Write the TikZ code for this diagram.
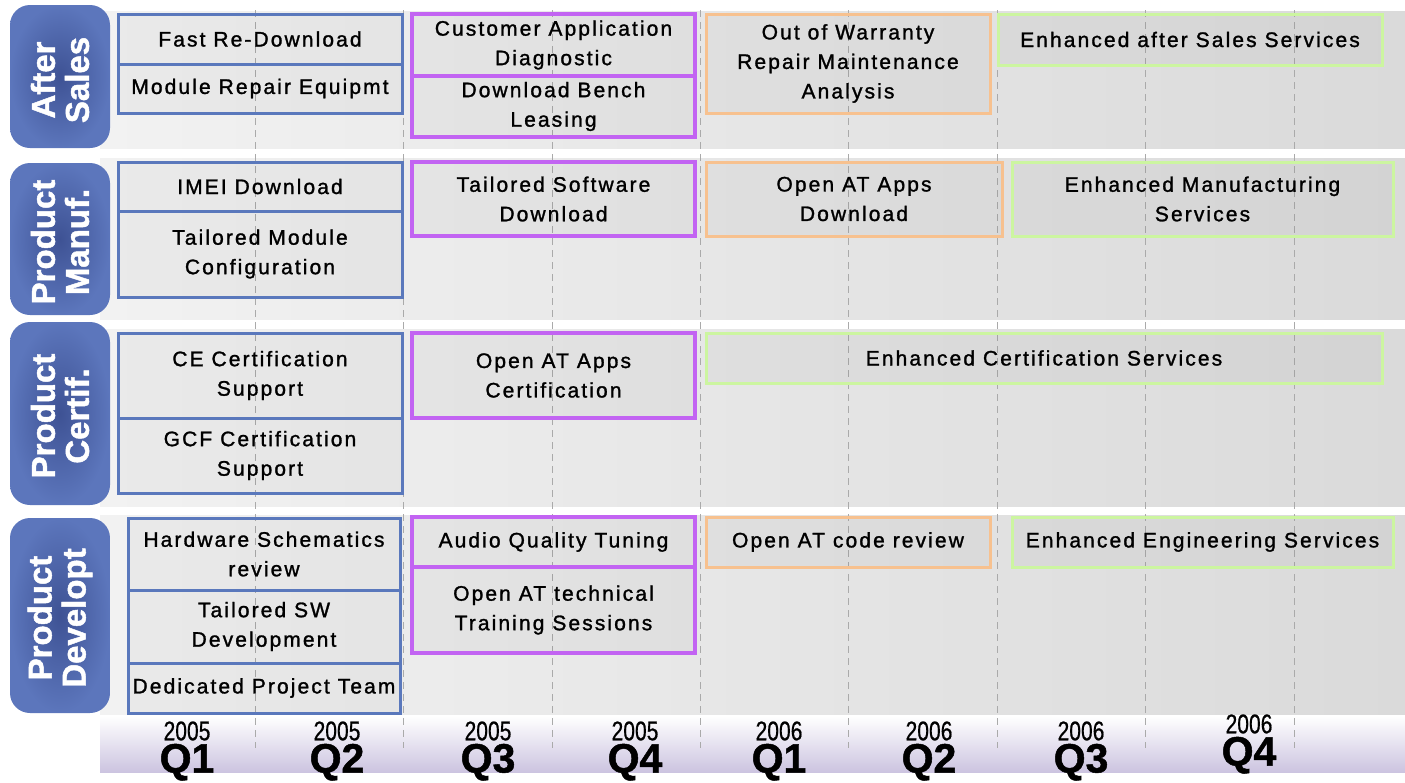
\documentclass[tikz,border=0pt]{standalone}
\usepackage{fontspec}
\setmainfont{Liberation Sans}
\newfontfamily\boxfont[LetterSpace=10,FakeBold=1.3]{Liberation Sans}
\newfontfamily\labfont[FakeBold=1.4]{Liberation Sans Bold}
\newfontfamily\yearfont[FakeStretch=0.78,FakeBold=0.6]{Liberation Sans}
\newfontfamily\qfont[FakeBold=1.2]{Liberation Sans Bold}
\newcommand\qlabel[2]{\begin{tabular}{@{}c@{}}{\yearfont\fontsize{27}{27}\selectfont #1}\\{\qfont\fontsize{41}{41}\selectfont #2}\end{tabular}}
\definecolor{cblue}{RGB}{90,120,188}
\definecolor{cpurple}{RGB}{194,100,242}
\definecolor{corange}{RGB}{247,193,143}
\definecolor{cgreen}{RGB}{204,245,160}
\definecolor{labout}{RGB}{92,118,188}
\definecolor{labin}{RGB}{62,82,148}
\definecolor{bandL}{RGB}{242,242,242}
\definecolor{bandR}{RGB}{218,218,218}
\definecolor{axisc}{RGB}{204,196,224}
\definecolor{gridc}{RGB}{170,170,170}
\tikzset{
  every node/.style={inner sep=0pt, outer sep=0pt},
  bx/.style={draw, line width=3pt, fill=black, fill opacity=0.03, text opacity=1,
    align=center, text=black, font=\boxfont\fontsize{21}{29.5}\selectfont},
  bl/.style={bx, draw=cblue},
  pu/.style={bx, draw=cpurple, line width=3.4pt},
  orb/.style={bx, draw=corange},
  gr/.style={bx, draw=cgreen},
  labbox/.style={rounded corners=20pt, inner color=labin, outer color=labout},
  labtext/.style={rotate=90, align=center, text=white, font=\labfont\fontsize{33}{34}\selectfont},
  band/.style={left color=bandL, right color=bandR},
  vline/.style={draw=gridc, line width=0.9pt, dash pattern=on 7pt off 5pt},
  tq/.style={text=black},
}
\begin{document}
\begin{tikzpicture}[x=1pt,y=-1pt]
\useasboundingbox (0,0) rectangle (1405,782);
% background bands
\shade[band] (100,11) rectangle (1405,148);
\shade[band] (100,158) rectangle (1405,319);
\shade[band] (100,329) rectangle (1405,506);
\shade[band] (100,515) rectangle (1405,714);
% time axis bar
\shade[top color=white, bottom color=axisc] (100,716) rectangle (1405,772);
% grid lines
\foreach \gx in {255,403,552,700,848,997,1145,1294}
  \draw[vline] (\gx,10) -- (\gx,748);
% row labels
\path[labbox] (10,5) rectangle (110,148);
\node[labtext] (lAS) at (60,80) {After\\Sales};
\path[labbox] (10,163) rectangle (110,315);
\node[labtext] (lPM) at (60,242) {Product\\Manuf.};
\path[labbox] (10,322) rectangle (110,505);
\node[labtext] (lPC) at (60,416) {Product\\Certif.};
\path[labbox] (10,518) rectangle (110,713);
\node[labtext] (lPD) at (60,618) {Product\\Developt};
% blue boxes
\node[bl, minimum width=284, minimum height=50] (fr) at (260,39) {Fast Re-Download};
\node[bl, minimum width=284, minimum height=49] (mr) at (260,88.5) {Module Repair Equipmt};
\node[bl, minimum width=284, minimum height=49] (imei) at (260,186.5) {IMEI Download};
\node[bl, minimum width=284, minimum height=86] (tmc) at (260,254) {Tailored Module\\Configuration};
\node[bl, minimum width=284, minimum height=85] (ce) at (260,375.5) {CE Certification\\Support};
\node[bl, minimum width=284, minimum height=75] (gcf) at (260,455.5) {GCF Certification\\Support};
\node[bl, minimum width=272, minimum height=72] (hw) at (264,554) {Hardware Schematics\\review};
\node[bl, minimum width=272, minimum height=73] (tsw) at (264,626.5) {Tailored SW\\Development};
\node[bl, minimum width=272, minimum height=50] (dpt) at (264,688) {Dedicated Project Team};
% purple boxes
\node[pu, minimum width=283, minimum height=62] (cad) at (553.5,45) {Customer Application\\Diagnostic};
\node[pu, minimum width=283, minimum height=61] (dbl) at (553.5,106.5) {Download Bench\\Leasing};
\node[pu, minimum width=283, minimum height=74] (tsd) at (553.5,199) {Tailored Software\\Download};
\node[pu, minimum width=283, minimum height=85] (oac) at (553.5,375.5) {Open AT Apps\\Certification};
\node[pu, minimum width=283, minimum height=50] (aqt) at (553.5,542) {Audio Quality Tuning};
\node[pu, minimum width=283, minimum height=86] (oat) at (553.5,610) {Open AT technical\\Training Sessions};
% orange boxes
\node[orb, minimum width=284, minimum height=99] (oow) at (848,63.5) {Out of Warranty\\Repair Maintenance\\Analysis};
\node[orb, minimum width=296, minimum height=74] (oad) at (854,199) {Open AT Apps\\Download};
\node[orb, minimum width=284, minimum height=50] (ocr) at (848,542) {Open AT code review};
% green boxes
\node[gr, minimum width=384, minimum height=51] (eas) at (1190,39.5) {Enhanced after Sales Services};
\node[gr, minimum width=381, minimum height=74] (ems) at (1202.5,199) {Enhanced Manufacturing\\Services};
\node[gr, minimum width=676, minimum height=50] (ecs) at (1044,358) {Enhanced Certification Services};
\node[gr, minimum width=381, minimum height=50] (ees) at (1202.5,542) {Enhanced Engineering Services};
% time axis labels
\node[tq] (t1) at (187,751) {\qlabel{2005}{Q1}};
\node[tq] (t2) at (337,751) {\qlabel{2005}{Q2}};
\node[tq] (t3) at (488,751) {\qlabel{2005}{Q3}};
\node[tq] (t4) at (635,751) {\qlabel{2005}{Q4}};
\node[tq] (t5) at (779,751) {\qlabel{2006}{Q1}};
\node[tq] (t6) at (929,751) {\qlabel{2006}{Q2}};
\node[tq] (t7) at (1081,751) {\qlabel{2006}{Q3}};
\node[tq] (t8) at (1249,744) {\qlabel{2006}{Q4}};
\end{tikzpicture}
\end{document}
